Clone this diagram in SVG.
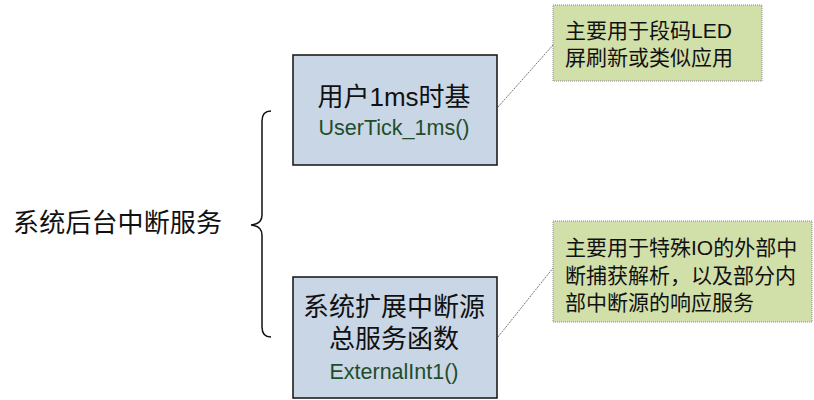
<svg xmlns="http://www.w3.org/2000/svg" width="814" height="400" viewBox="0 0 814 400">
<style>
.node{fill:#c9d6e6;stroke:#111;stroke-width:1.5}
.note{fill:#d1dfa9;stroke:#8a8a8a;stroke-width:1;stroke-dasharray:1 1}
.t{font-family:"Liberation Sans","Noto Sans CJK SC",sans-serif;fill:#111}
.title{font-size:26px;text-anchor:middle}
.fn{font-size:21.5px;text-anchor:middle;fill:#1e4d2b}
.nt{font-size:21px}
.conn{stroke:#777;stroke-width:1;fill:none;stroke-dasharray:2 1}
</style>
<text class="t" x="13" y="232" font-size="26" textLength="209">系统后台中断服务</text>
<path d="M271,111 Q262,111 262,121 L262,215 Q262,224 251,225 Q262,226 262,235 L262,327 Q262,337 271,337" fill="none" stroke="#111" stroke-width="1.5"/>
<g id="connectors">
<line class="conn" x1="498" y1="107" x2="553" y2="45"/>
<line class="conn" x1="498" y1="337" x2="553" y2="268"/>
</g>
<g id="node-usertick">
<rect class="node" x="293" y="55" width="204" height="110"/>
<text class="t title" x="394" y="106">用户1ms时基</text>
<text class="t fn" x="394" y="135">UserTick_1ms()</text>
</g>
<g id="node-external">
<rect class="node" x="293" y="277" width="204" height="121"/>
<text class="t title" x="394" y="316">系统扩展中断源</text>
<text class="t title" x="394" y="348">总服务函数</text>
<text class="t fn" x="394" y="379">ExternalInt1()</text>
</g>
<g id="note-1">
<rect class="note" x="553" y="5" width="209" height="76"/>
<text class="t nt" x="565" y="38">主要用于段码LED</text>
<text class="t nt" x="565" y="65">屏刷新或类似应用</text>
</g>
<g id="note-2">
<rect class="note" x="553" y="221" width="259" height="101"/>
<text class="t nt" x="565" y="255">主要用于特殊IO的外部中</text>
<text class="t nt" x="565" y="283">断捕获解析，以及部分内</text>
<text class="t nt" x="565" y="310">部中断源的响应服务</text>
</g>
</svg>
